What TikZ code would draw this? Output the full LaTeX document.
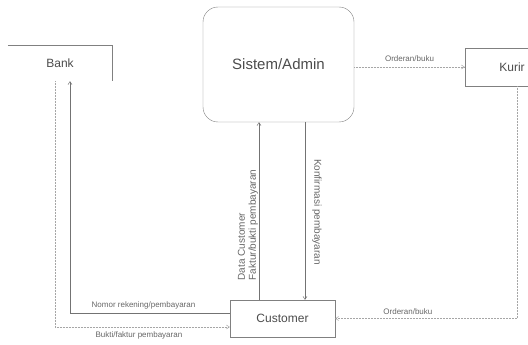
\documentclass[tikz,border=0pt]{standalone}
\usepackage{fontspec}
\setmainfont{Liberation Sans}
\usetikzlibrary{arrows.meta,positioning,calc}

\begin{document}
\begin{tikzpicture}[x=1pt,y=-1pt,
	line/.style={draw=black!55, line width=0.5pt, -{Straight Barb[length=3pt,width=4pt]}},
	faint/.style={draw=black!35, line width=0.5pt, densely dotted, -{Straight Barb[length=3pt,width=4pt]}},
	box/.style={minimum width=104pt, minimum height=36pt, inner sep=0pt, text=black!70, font=\fontsize{12}{14}\selectfont},
	lbl/.style={text=black!60, font=\fontsize{8}{9}\selectfont, inner sep=1pt},
	vlbl/.style={text=black!60, font=\fontsize{10}{11}\selectfont, inner sep=1pt, align=left}]
\useasboundingbox (0,0) rectangle (528,345);
\clip (0,0) rectangle (528,345);

% entitas
\node[box] (bank) at (60,63) {Bank};
\node[box, draw=black!50, rounded corners=15pt, minimum width=151pt, minimum height=115pt,
	font=\fontsize{15}{17}\selectfont] (sistem) at (278.5,64.5) {Sistem/Admin};
\node[box, draw=black!50, minimum width=94pt, minimum height=38pt] (kurir) at (512,67) {Kurir};
\node[box, draw=black!50, minimum width=105pt, minimum height=37pt] (cust) at (282.5,318.5) {Customer};
\draw[black!50, line width=0.5pt] (bank.north west) -- (bank.north east) -- (bank.south east);

\coordinate (dc) at (259,0);
\coordinate (kp) at (305,0);

% aliran data
\path[line] ([yshift=5.5pt]cust.west) -| ([xshift=10pt]bank.south)
	node[lbl, pos=0.27, above=3pt] {Nomor rekening/pembayaran};
\path[faint] ([xshift=-5pt]bank.south) |- ([yshift=-8.5pt]cust.west)
	node[lbl, pos=0.74, below=3pt] {Bukti/faktur pembayaran};
\path[line] (cust.north -| dc) -- (sistem.south -| dc);
\path[line] (sistem.south -| kp) -- (cust.north -| kp);
\node[vlbl, rotate=90] at (248,225) {Data Customer\\Faktur/bukti pembayaran};
\node[vlbl, rotate=-90] at (317,212) {Konfirmasi pembayaran};
\path[faint] (sistem.east |- kurir.west) -- (kurir.west)
	node[lbl, midway, above=4pt] {Orderan/buku};
\path[faint] ([xshift=5pt]kurir.south) |- (cust.east)
	node[lbl, pos=0.8, above=3pt] {Orderan/buku};
\end{tikzpicture}
\end{document}
